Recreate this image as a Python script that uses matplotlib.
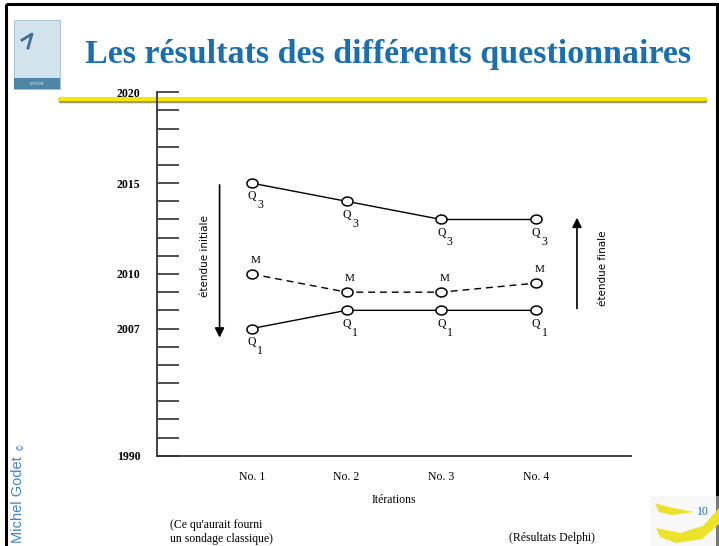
import numpy as np
import matplotlib
matplotlib.use("Agg")
import matplotlib.pyplot as plt
from matplotlib.path import Path
from matplotlib.patches import Rectangle, Polygon

plt.rcParams['mathtext.fontset'] = 'stix'

# data
iterations = ['No. 1', 'No. 2', 'No. 3', 'No. 4']
q3 = [2015, 2014, 2013, 2013]
median = [2010, 2009, 2009, 2009.5]
q1 = [2007, 2008, 2008, 2008]
year_ticks = [2020, 2015, 2010, 2007, 2000]
year_labels = ['2020', '2015', '2010', '2007', '1990']

blue = '#1b6fae'
serif = 'Liberation Serif'

fig = plt.figure(figsize=(7.19, 5.46), dpi=100)

# slide decorations, in pixel coords
bg = fig.add_axes([0, 0, 1, 1])
bg.set_xlim(0, 719)
bg.set_ylim(546, 0)
bg.axis('off')
bg.add_patch(Rectangle((6, 4), 711, 560, fill=False, lw=2.2, ec='black'))
bg.add_patch(Rectangle((14, 20), 46, 69, fc='#d3e3ec', ec='#9fbccd', lw=0.6))
bg.add_patch(Rectangle((14, 78), 46, 11, fc='#4f86a8', ec='none'))
bg.text(37, 84, 'LIPSOR', fontsize=3, color='#dfeaf0', ha='center', va='center')
bg.plot([22, 32, 28], [40, 34, 48], color='#3d6d92', lw=2)
bg.plot([60, 705], [101, 101], color='#a09a60', lw=2.5, solid_capstyle='round')
bg.plot([60, 705], [99, 99], color='#f5e60a', lw=3, solid_capstyle='round')
bg.text(85, 55, 'Les résultats des différents questionnaires', fontsize=24.5,
        fontfamily=serif, fontweight='bold', color=blue, ha='left', va='center')
bg.text(18, 543, 'Michel Godet', rotation=90, fontsize=10.5, color='#3f86c0',
        fontfamily='Liberation Sans', ha='center', va='bottom')
bg.text(21, 450, '©', rotation=90, fontsize=5.5, color='#3f86c0', ha='center', va='bottom')
bg.add_patch(Rectangle((650, 496), 69, 50, fc='#f2f2f2', ec='none', alpha=0.5))
bg.add_patch(Polygon([(655, 503), (668, 507), (694, 512), (672, 515), (659, 512)],
                     fc='#ece22a', ec='none'))
bg.add_patch(Polygon([(656, 528), (680, 533), (703, 526), (719, 508), (719, 524),
                      (702, 539), (676, 543), (660, 537)], fc='#ece22a', ec='none'))
bg.text(703, 512, '10', fontsize=8.5, color=blue, fontfamily=serif, ha='center', va='center')
bg.text(170, 532, "(Ce qu'aurait fourni\nun sondage classique)", fontsize=8.5,
        fontfamily=serif, ha='left', va='center', linespacing=1.15)
bg.text(552, 538, '(Résultats Delphi)', fontsize=8.5, fontfamily=serif,
        ha='center', va='center')

# main chart
ax = fig.add_axes([157 / 719, 1 - 455.7 / 546, 474 / 719, 363.4 / 546])
ax.patch.set_alpha(0)
x = np.arange(1, len(iterations) + 1)

t = np.linspace(0, 2 * np.pi, 40)
ellipse = Path(np.column_stack([np.cos(t), 0.8 * np.sin(t)]))
mk = dict(marker=ellipse, markersize=8, markerfacecolor='white',
          markeredgecolor='black', markeredgewidth=1.1)

ax.plot(x, q3, color='black', lw=1.0, **mk)
ax.plot(x, median, color='black', lw=1.0, dashes=(5, 3.5), **mk)
ax.plot(x, q1, color='black', lw=1.0, **mk)

def qlabel(xi, yi, sub):
    ax.annotate('Q', (xi, yi), xytext=(0, -9.5), textcoords='offset points',
                ha='center', va='center', fontsize=8.5, fontfamily=serif)
    ax.annotate(sub, (xi, yi), xytext=(6, -16), textcoords='offset points',
                ha='center', va='center', fontsize=8.5, fontfamily=serif)

for xi, a, m, b in zip(x, q3, median, q1):
    qlabel(xi, a, '3')
    qlabel(xi, b, '1')
    ax.annotate('M', (xi, m), xytext=(2.5, 10), textcoords='offset points',
                ha='center', va='center', fontsize=8, fontfamily=serif)

# range arrows
ax.annotate('', xy=(0.66, 2006.5), xytext=(0.66, 2014.9),
            arrowprops=dict(arrowstyle='-|>', color='black', lw=1.2,
                            mutation_scale=14, shrinkA=0, shrinkB=0))
ax.annotate('', xy=(4.43, 2013.1), xytext=(4.43, 2008.1),
            arrowprops=dict(arrowstyle='-|>', color='black', lw=1.2,
                            mutation_scale=14, shrinkA=0, shrinkB=0))
narrow = ['Liberation Sans Narrow', 'DejaVu Sans']
ax.text(0.51, 2011.0, 'étendue initiale', rotation=90, fontsize=7.5,
        family=narrow, ha='center', va='center')
ax.text(4.70, 2010.3, 'étendue finale', rotation=90, fontsize=7.5,
        family=narrow, ha='center', va='center')

ax.set_xlim(0, 5)
ax.set_ylim(2000, 2020)
ax.set_xticks(x)
ax.set_xticklabels(iterations, fontfamily=serif, fontsize=8.5)
ax.set_xlabel('Itérations', fontfamily=serif, fontsize=8.5, labelpad=8)
ax.tick_params(axis='x', length=0, pad=11)
ax.set_yticks(np.arange(2000, 2021), minor=True)
ax.set_yticks(year_ticks)
ax.set_yticklabels(year_labels, fontfamily=serif, fontsize=8.5, fontweight='bold')
ax.tick_params(axis='y', which='both', direction='in', length=16, width=1.2,
               color='#333333', pad=12)
for s in ['top', 'right']:
    ax.spines[s].set_visible(False)
for s in ['left', 'bottom']:
    ax.spines[s].set_linewidth(1.3)
    ax.spines[s].set_color('#333333')

fig.savefig('out.png', dpi=100)
